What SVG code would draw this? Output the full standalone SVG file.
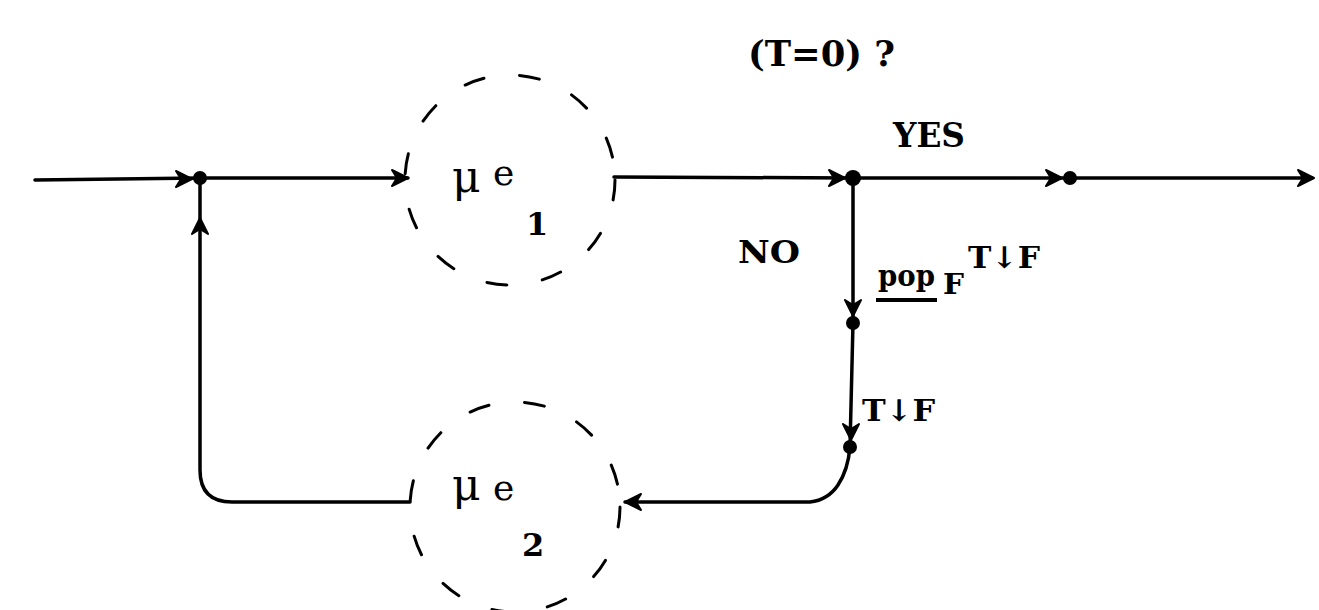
<svg xmlns="http://www.w3.org/2000/svg" xmlns:xlink="http://www.w3.org/1999/xlink" width="1319" height="610" viewBox="0 0 1319 610">
<style>
.ln{fill:none;stroke:#000;stroke-width:3.5;stroke-linecap:round;stroke-linejoin:round}
.dash{fill:none;stroke:#000;stroke-width:3;stroke-dasharray:20 36;stroke-linecap:round}
.dot{fill:#000}
.lb{font-family:"DejaVu Serif","Liberation Serif",serif;font-weight:bold;fill:#000}
.mu{font-family:"DejaVu Serif","Liberation Serif",serif;fill:#000}
</style>
<defs>
<path id="ah" d="M-16,-8 L0,0 L-16,8 L-11,0 z" fill="#000" stroke="#000" stroke-width="2" stroke-linejoin="round"/>
</defs>
<rect width="1319" height="610" fill="#fff"/>
<g id="connectors">
<path class="ln" d="M35,180 L200,178"/>
<path class="ln" d="M200,178 L408,178"/>
<path class="ln" d="M614,177 L853,178"/>
<path class="ln" d="M853,178 L1312,178"/>
<path class="ln" d="M853,178 L853,323 L850,447 Q848,470 838,485 Q828,500 810,502 L625,502"/>
<path class="ln" d="M410,502 L232,502 Q200,502 200,470 L200,178"/>
<use xlink:href="#ah" transform="translate(192,179)"/>
<use xlink:href="#ah" transform="translate(408,178)"/>
<use xlink:href="#ah" transform="translate(845,178)"/>
<use xlink:href="#ah" transform="translate(1062,178)"/>
<use xlink:href="#ah" transform="translate(1314,178)"/>
<use xlink:href="#ah" transform="translate(853,316) rotate(90)"/>
<use xlink:href="#ah" transform="translate(851,440) rotate(90)"/>
<use xlink:href="#ah" transform="translate(625,502) rotate(180)"/>
<use xlink:href="#ah" transform="translate(200,218) rotate(-90)"/>
</g>
<g id="j1"><circle class="dot" cx="200" cy="178" r="7"/></g>
<g id="j2"><circle class="dot" cx="853" cy="178" r="8"/></g>
<g id="j3"><circle class="dot" cx="1070" cy="178" r="7"/></g>
<g id="j4"><circle class="dot" cx="853" cy="323" r="7"/></g>
<g id="j5"><circle class="dot" cx="850" cy="447" r="7"/></g>
<g id="mue1">
<circle class="dash" cx="510" cy="180" r="105"/>
<text class="mu" x="452" y="192" font-size="44">μ</text>
<text class="mu" x="493" y="185" font-size="36">e</text>
<text class="lb" x="526" y="235" font-size="32">1</text>
</g>
<g id="mue2">
<circle class="dash" cx="515" cy="507" r="105"/>
<text class="mu" x="452" y="500" font-size="44">μ</text>
<text class="mu" x="493" y="500" font-size="36">e</text>
<text class="lb" x="522" y="556" font-size="32">2</text>
</g>
<g id="labels">
<text class="lb" x="748" y="66" font-size="36" font-weight="normal" textLength="147" lengthAdjust="spacingAndGlyphs">(T=0) ?</text>
<text class="lb" x="893" y="147" font-size="34" textLength="72" lengthAdjust="spacingAndGlyphs">YES</text>
<text class="lb" x="738" y="263" font-size="32" textLength="62" lengthAdjust="spacingAndGlyphs">NO</text>
<text class="lb" x="878" y="286" font-size="29" textLength="57" lengthAdjust="spacingAndGlyphs">pop</text>
<line x1="876" y1="300" x2="937" y2="300" stroke="#000" stroke-width="4"/>
<text class="lb" x="943" y="294" font-size="28" textLength="21" lengthAdjust="spacingAndGlyphs">F</text>
<text class="lb" x="968" y="268" font-size="30" textLength="72" lengthAdjust="spacingAndGlyphs">T↓F</text>
<text class="lb" x="862" y="421" font-size="30" textLength="73" lengthAdjust="spacingAndGlyphs">T↓F</text>
</g>
</svg>
